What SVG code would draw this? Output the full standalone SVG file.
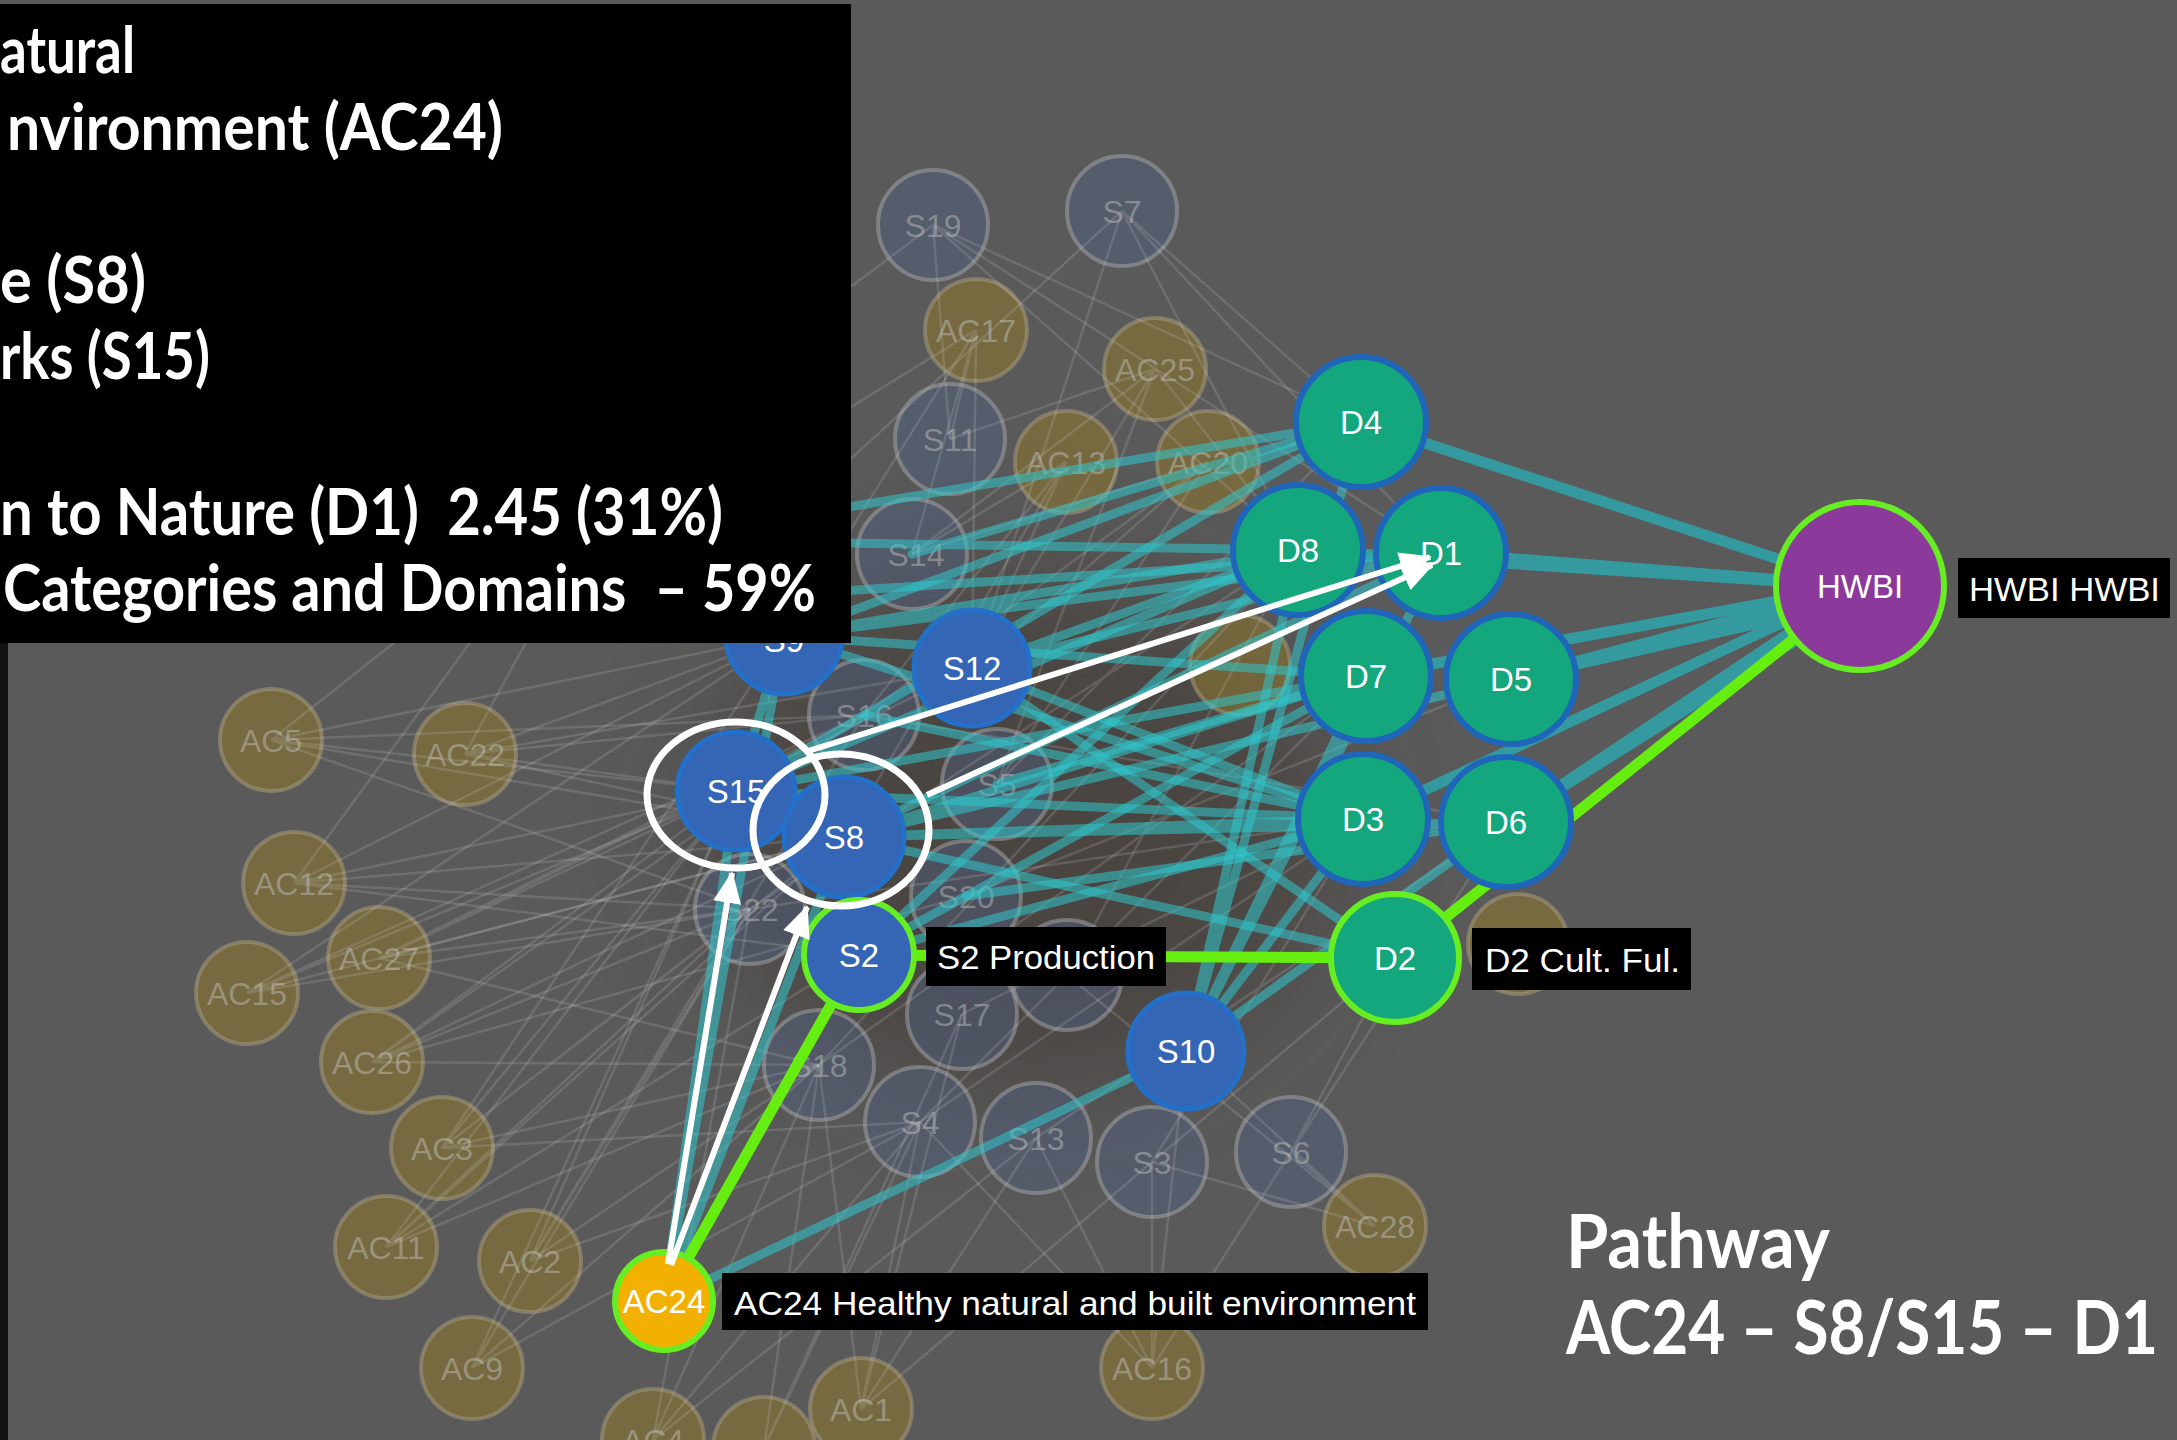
<svg xmlns="http://www.w3.org/2000/svg" width="2177" height="1440" viewBox="0 0 2177 1440">
<defs>
<style>
.bg{fill:#5a5a5a}
.g{stroke:#d8d8d8;stroke-opacity:0.17;stroke-width:2.5;fill:none}
.c{stroke:#2fc6cc;stroke-opacity:0.55;stroke-width:9;fill:none;stroke-linecap:round}
.ch{stroke:#2aaab0;stroke-opacity:0.8;stroke-width:11;fill:none}
.gr{stroke:#66ee11;stroke-width:11;fill:none}
.fs{fill:#4f5f80;fill-opacity:0.45;stroke:#a8a8a8;stroke-opacity:0.5;stroke-width:4}
.fa{fill:#8a7530;fill-opacity:0.6;stroke:#aaa080;stroke-opacity:0.5;stroke-width:4}
.fl{font-family:'Liberation Sans',Arial,sans-serif;font-size:32px;fill:#c8c8c8;fill-opacity:0.45;text-anchor:middle}
.s{fill:#3565b5;stroke:#2470c8;stroke-width:5}
.d{fill:#14a67c;stroke:#1f66bb;stroke-width:6}
.hl{stroke:#66ee22;stroke-width:6}
.nl{font-family:'Liberation Sans',Arial,sans-serif;font-size:33px;fill:#ffffff;text-anchor:middle}
.lb{fill:#000}
.lt{font-family:'Liberation Sans',Arial,sans-serif;font-size:34px;fill:#ffffff}
.bx{font-family:Lato,'Open Sans',sans-serif;font-weight:700;font-size:65px;fill:#ffffff}
.pw{font-family:Lato,'Open Sans',sans-serif;font-weight:700;font-size:74px;fill:#ffffff}
.wa{stroke:#ffffff;stroke-width:6;fill:none}
.wc{stroke:#ffffff;stroke-width:7;fill:none}
</style>
<marker id="ah" markerUnits="userSpaceOnUse" markerWidth="32" markerHeight="28" refX="30" refY="14" orient="auto">
<path d="M0,0 L32,14 L0,28 z" fill="#ffffff"/>
</marker>
<filter id="blur" x="-50%" y="-50%" width="200%" height="200%"><feGaussianBlur stdDeviation="60"/></filter>
</defs>
<rect class="bg" x="0" y="0" width="2177" height="1440"/>
<ellipse cx="1020" cy="830" rx="320" ry="260" fill="#3a302a" opacity="0.5" filter="url(#blur)"/>

<g id="faded-nodes">
<g id="S19"><circle class="fs" cx="933" cy="225" r="55"/><text class="fl" x="933" y="237">S19</text></g>
<g id="S7"><circle class="fs" cx="1122" cy="211" r="55"/><text class="fl" x="1122" y="223">S7</text></g>
<g id="AC17"><circle class="fa" cx="976" cy="330" r="51"/><text class="fl" x="976" y="342">AC17</text></g>
<g id="AC25"><circle class="fa" cx="1155" cy="369" r="51"/><text class="fl" x="1155" y="381">AC25</text></g>
<g id="S11"><circle class="fs" cx="950" cy="439" r="55"/><text class="fl" x="950" y="451">S11</text></g>
<g id="AC13"><circle class="fa" cx="1066" cy="462" r="51"/><text class="fl" x="1066" y="474">AC13</text></g>
<g id="AC20"><circle class="fa" cx="1208" cy="462" r="51"/><text class="fl" x="1208" y="474">AC20</text></g>
<g id="S14"><circle class="fs" cx="912" cy="554" r="55"/><text class="fl" x="916" y="566">S14</text></g>
<g id="AC21"><circle class="fa" cx="1240" cy="665" r="50"/></g>
<g id="S16"><circle class="fs" cx="864" cy="715" r="55"/><text class="fl" x="864" y="727">S16</text></g>
<g id="S5"><circle class="fs" cx="997" cy="784" r="55"/><text class="fl" x="997" y="796">S5</text></g>
<g id="S20"><circle class="fs" cx="966" cy="896" r="55"/><text class="fl" x="966" y="908">S20</text></g>
<g id="S22"><circle class="fs" cx="750" cy="909" r="55"/><text class="fl" x="750" y="921">S22</text></g>
<g id="Sx"><circle class="fs" cx="1067" cy="975" r="55"/></g>
<g id="S17"><circle class="fs" cx="962" cy="1014" r="55"/><text class="fl" x="962" y="1026">S17</text></g>
<g id="S18"><circle class="fs" cx="819" cy="1065" r="55"/><text class="fl" x="819" y="1077">S18</text></g>
<g id="S4"><circle class="fs" cx="920" cy="1122" r="55"/><text class="fl" x="920" y="1134">S4</text></g>
<g id="S13"><circle class="fs" cx="1036" cy="1138" r="55"/><text class="fl" x="1036" y="1150">S13</text></g>
<g id="S3"><circle class="fs" cx="1152" cy="1162" r="55"/><text class="fl" x="1152" y="1174">S3</text></g>
<g id="S6"><circle class="fs" cx="1291" cy="1152" r="55"/><text class="fl" x="1291" y="1164">S6</text></g>
<g id="AC28"><circle class="fa" cx="1375" cy="1226" r="51"/><text class="fl" x="1375" y="1238">AC28</text></g>
<g id="ACd"><circle class="fa" cx="1518" cy="944" r="50"/></g>
<g id="AC16"><circle class="fa" cx="1152" cy="1368" r="51"/><text class="fl" x="1152" y="1380">AC16</text></g>
<g id="AC1"><circle class="fa" cx="861" cy="1409" r="51"/><text class="fl" x="861" y="1421">AC1</text></g>
<g id="AC4"><circle class="fa" cx="653" cy="1440" r="51"/><text class="fl" x="653" y="1452">AC4</text></g>
<g id="ACb"><circle class="fa" cx="764" cy="1448" r="51"/></g>
<g id="AC9"><circle class="fa" cx="472" cy="1368" r="51"/><text class="fl" x="472" y="1380">AC9</text></g>
<g id="AC2"><circle class="fa" cx="530" cy="1261" r="51"/><text class="fl" x="530" y="1273">AC2</text></g>
<g id="AC11"><circle class="fa" cx="386" cy="1247" r="51"/><text class="fl" x="386" y="1259">AC11</text></g>
<g id="AC3"><circle class="fa" cx="442" cy="1148" r="51"/><text class="fl" x="442" y="1160">AC3</text></g>
<g id="AC26"><circle class="fa" cx="372" cy="1062" r="51"/><text class="fl" x="372" y="1074">AC26</text></g>
<g id="AC15"><circle class="fa" cx="247" cy="993" r="51"/><text class="fl" x="247" y="1005">AC15</text></g>
<g id="AC27"><circle class="fa" cx="379" cy="958" r="51"/><text class="fl" x="379" y="970">AC27</text></g>
<g id="AC12"><circle class="fa" cx="294" cy="883" r="51"/><text class="fl" x="294" y="895">AC12</text></g>
<g id="AC5"><circle class="fa" cx="271" cy="740" r="51"/><text class="fl" x="271" y="752">AC5</text></g>
<g id="AC22"><circle class="fa" cx="465" cy="754" r="51"/><text class="fl" x="465" y="766">AC22</text></g>
</g>

<g id="connectors">
<g id="faint-edges">
<path class="g" d="M271,740L736,791M271,740L784,636M271,740L844,837M271,740L750,909M271,740L864,715M271,740L600,480"/>
<path class="g" d="M465,754L736,791M465,754L784,636M465,754L972,668M465,754L844,837M465,754L864,715M465,754L620,470"/>
<path class="g" d="M294,883L736,791M294,883L844,837M294,883L750,909M294,883L859,955M294,883L784,636M294,883L560,520"/>
<path class="g" d="M379,958L736,791M379,958L844,837M379,958L864,715M379,958L750,909M379,958L819,1065M379,958L972,668"/>
<path class="g" d="M247,993L736,791M247,993L844,837M247,993L784,636M247,993L750,909M247,993L864,715"/>
<path class="g" d="M372,1062L736,791M372,1062L750,909M372,1062L844,837M372,1062L819,1065M372,1062L864,715M372,1062L966,896"/>
<path class="g" d="M442,1148L736,791M442,1148L750,909M442,1148L819,1065M442,1148L844,837M442,1148L920,1122M442,1148L784,636"/>
<path class="g" d="M386,1247L750,909M386,1247L736,791M386,1247L819,1065M386,1247L844,837M386,1247L859,955"/>
<path class="g" d="M530,1261L750,909M530,1261L736,791M530,1261L819,1065M530,1261L920,1122M530,1261L864,715"/>
<path class="g" d="M472,1368L819,1065M472,1368L750,909M472,1368L920,1122M472,1368L736,791"/>
<path class="g" d="M653,1440L819,1065M653,1440L920,1122M653,1440L1036,1138M653,1440L750,909"/>
<path class="g" d="M764,1448L920,1122M764,1448L819,1065M764,1448L962,1014"/>
<path class="g" d="M861,1409L920,1122M861,1409L1036,1138M861,1409L819,1065M861,1409L962,1014M861,1409L1152,1162"/>
<path class="g" d="M1152,1368L1036,1138M1152,1368L1152,1162M1152,1368L1291,1152M1152,1368L1186,1051M1152,1368L920,1122"/>
<path class="g" d="M1375,1226L1291,1152M1375,1226L1152,1162M1375,1226L1186,1051M1375,1226L1067,975"/>
<path class="g" d="M976,330L950,439M976,330L912,554M976,330L972,668M976,330L784,636M976,330L700,500"/>
<path class="g" d="M1155,369L950,439M1155,369L972,668M1155,369L912,554M1155,369L997,784M1155,369L1298,550"/>
<path class="g" d="M1066,462L912,554M1066,462L972,668M1066,462L864,715M1066,462L844,837"/>
<path class="g" d="M1208,462L972,668M1208,462L997,784M1208,462L912,554M1208,462L864,715"/>
<path class="g" d="M933,225L1361,422M933,225L1298,550M933,225L950,439M933,225L700,400M933,225L1441,553"/>
<path class="g" d="M1122,211L1361,422M1122,211L1298,550M1122,211L1441,553M1122,211L972,668M1122,211L740,560"/>
<path class="g" d="M920,1122L1363,819M1036,1138L1506,822M1152,1162L1395,958M1291,1152L1395,958M962,1014L1363,819M819,1065L1366,676M966,896L1511,679M1067,975L1298,550M1291,1152L1506,822M1152,1162L1363,819"/>
<path class="g" d="M750,909L1298,550M750,909L1363,819M819,1065L1298,550M920,1122L1366,676M864,715L1506,822M997,784L1361,422"/>
</g>
<g id="cyan-edges">
<path class="c" d="M784,636L1361,422M784,636L1298,550M784,636L1441,553M784,636L1366,676M784,636L1363,819"/>
<path class="c" d="M736,791L1361,422M736,791L1298,550M736,791L1363,819M736,791L1366,676M736,791L784,636"/>
<path class="c" d="M844,837L1363,819M844,837L1366,676M844,837L1506,822M844,837L1441,553M844,837L1511,679M844,837L1395,958"/>
<path class="c" d="M972,668L1298,550M972,668L1441,553M972,668L1363,819M972,668L1395,958"/>
<path class="c" d="M1186,1051L1298,550M1186,1051L1361,422M1186,1051L1363,819M1186,1051L1366,676M1186,1051L1441,553M1186,1051L1506,822"/>
<path class="c" d="M664,1301L736,791M664,1301L844,837M664,1301L1186,1051M664,1301L784,636"/>
<path class="c" d="M864,715L1363,819M997,784L1366,676M966,896L1506,822M912,554L1361,422M650,540L1361,422M650,540L1298,550M700,600L1441,553"/>
<path class="c" d="M859,955L1366,676M859,955L1363,819M859,955L1298,550"/>
<path class="ch" d="M1361,422L1860,586M1298,550L1860,586M1441,553L1860,586M1366,676L1860,586M1511,679L1860,586M1511,679L1860,600M1363,819L1860,586M1506,822L1860,586M1506,822L1860,600"/>
</g>
<g id="green-edges">
<path class="gr" d="M664,1301L859,955M859,955L1395,958M1395,958L1860,586"/>
</g>
</g>

<g id="S9"><circle class="s" cx="784" cy="636" r="58"/><text class="nl" x="784" y="652">S9</text></g>
<g id="S15"><circle class="s" cx="736" cy="791" r="59"/><text class="nl" x="736" y="803">S15</text></g>
<g id="S8"><circle class="s" cx="844" cy="837" r="60"/><text class="nl" x="844" y="849">S8</text></g>
<g id="S12"><circle class="s" cx="972" cy="668" r="58"/><text class="nl" x="972" y="680">S12</text></g>
<g id="S10"><circle class="s" cx="1186" cy="1051" r="58"/><text class="nl" x="1186" y="1063">S10</text></g>
<g id="S2"><circle class="s hl" cx="859" cy="955" r="55"/><text class="nl" x="859" y="967">S2</text></g>
<g id="S2-label"><rect class="lb" x="926" y="927" width="240" height="59"/><text class="lt" x="937" y="969" textLength="218" lengthAdjust="spacingAndGlyphs">S2 Production</text></g>
<g id="D4"><circle class="d" cx="1361" cy="422" r="65"/><text class="nl" x="1361" y="434">D4</text></g>
<g id="D8"><circle class="d" cx="1298" cy="550" r="65"/><text class="nl" x="1298" y="562">D8</text></g>
<g id="D1"><circle class="d" cx="1441" cy="553" r="65"/><text class="nl" x="1441" y="565">D1</text></g>
<g id="D7"><circle class="d" cx="1366" cy="676" r="65"/><text class="nl" x="1366" y="688">D7</text></g>
<g id="D5"><circle class="d" cx="1511" cy="679" r="65"/><text class="nl" x="1511" y="691">D5</text></g>
<g id="D3"><circle class="d" cx="1363" cy="819" r="65"/><text class="nl" x="1363" y="831">D3</text></g>
<g id="D6"><circle class="d" cx="1506" cy="822" r="65"/><text class="nl" x="1506" y="834">D6</text></g>
<g id="D2"><circle class="d hl" cx="1395" cy="958" r="64"/><text class="nl" x="1395" y="970">D2</text></g>
<g id="D2-label"><rect class="lb" x="1472" y="928" width="219" height="62"/><text class="lt" x="1485" y="972" textLength="195" lengthAdjust="spacingAndGlyphs">D2 Cult. Ful.</text></g>
<g id="HWBI"><circle cx="1860" cy="586" r="84" fill="#8b3a9c" stroke="#66ee22" stroke-width="6"/><text class="nl" x="1860" y="598">HWBI</text></g>
<g id="HWBI-label"><rect class="lb" x="1958" y="558" width="212" height="60"/><text class="lt" x="1969" y="601" textLength="191" lengthAdjust="spacingAndGlyphs">HWBI HWBI</text></g>
<g id="AC24"><circle cx="664" cy="1301" r="49" fill="#f2b000" stroke="#66ee22" stroke-width="6"/><text class="nl" x="664" y="1313" fill="#fff6d0">AC24</text></g>
<g id="AC24-label"><rect class="lb" x="722" y="1273" width="706" height="57"/><text class="lt" x="734" y="1315" textLength="682" lengthAdjust="spacingAndGlyphs">AC24 Healthy natural and built environment</text></g>

<g id="pathway-highlight">
<ellipse class="wc" cx="736" cy="795" rx="89" ry="73"/>
<ellipse class="wc" cx="841" cy="830" rx="88" ry="76"/>
<path class="wa" d="M668,1264L732,873" marker-end="url(#ah)"/>
<path class="wa" d="M671,1265L807,907" marker-end="url(#ah)"/>
<path class="wa" d="M805,752L1430,557" marker-end="url(#ah)"/>
<path class="wa" d="M927,795L1432,565" marker-end="url(#ah)"/>
</g>

<g id="info-box">
<rect x="0" y="4" width="851" height="639" fill="#000"/>
<rect x="0" y="643" width="8" height="797" fill="#111"/>
<text class="bx" x="0" y="73" textLength="135" lengthAdjust="spacingAndGlyphs">atural</text>
<text class="bx" x="7" y="150" textLength="496" lengthAdjust="spacingAndGlyphs">nvironment (AC24)</text>
<text class="bx" x="0" y="303" textLength="146" lengthAdjust="spacingAndGlyphs">e (S8)</text>
<text class="bx" x="0" y="379" textLength="210" lengthAdjust="spacingAndGlyphs">rks (S15)</text>
<text class="bx" x="0" y="535" textLength="723" lengthAdjust="spacingAndGlyphs">n to Nature (D1)&#160; 2.45 (31%)</text>
<text class="bx" x="3" y="611" textLength="813" lengthAdjust="spacingAndGlyphs">Categories and Domains&#160; – 59%</text>
</g>

<g id="pathway-text">
<text class="pw" x="1566" y="1268" textLength="264" lengthAdjust="spacingAndGlyphs">Pathway</text>
<text class="pw" x="1566" y="1354" textLength="592" lengthAdjust="spacingAndGlyphs">AC24 – S8/S15 – D1</text>
</g>
</svg>
